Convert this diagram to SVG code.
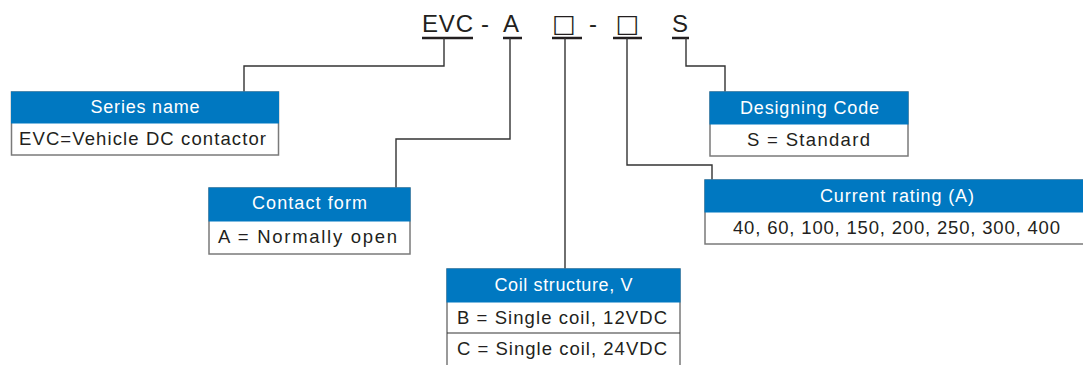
<svg xmlns="http://www.w3.org/2000/svg" width="1083" height="365" viewBox="0 0 1083 365">
<style>
.code{font-family:"Liberation Sans",Arial,sans-serif;font-size:24px;fill:#231f20}
.sq{font-family:"DejaVu Sans",sans-serif;font-size:25px;fill:#231f20}
.ul{stroke:#231f20;stroke-width:2.5;fill:none}
.hd{fill:#0078c1;stroke:#0078c1;stroke-width:1}
.bd{fill:#fff;stroke:#7a7a7a;stroke-width:1.5}
.ht{font-family:"Liberation Sans",Arial,sans-serif;font-size:18px;fill:#fff}
.bt{font-family:"Liberation Sans",Arial,sans-serif;font-size:18.5px;fill:#231f20}
.cn{stroke:#333;stroke-width:1.4;fill:none}
.dv{stroke:#333;stroke-width:1.2}
</style>
<rect width="1083" height="365" fill="#fff"/>
<g id="code">
<text class="code" x="422" y="32" textLength="51">EVC</text>
<text class="code" x="481" y="32">-</text>
<text class="code" x="503" y="32">A</text>
<text class="sq" x="564" y="32" text-anchor="middle">□</text>
<text class="code" x="589" y="32">-</text>
<text class="sq" x="627.5" y="32" text-anchor="middle">□</text>
<text class="code" x="672" y="32">S</text>
<path class="ul" d="M422 38H473M503 38H522M552 38H582M613 38H642M672 38H689"/>
</g>
<g id="connectors">
<path class="cn" d="M444 38V66H244V92"/>
<path class="cn" d="M510 38V139H396V188"/>
<path class="cn" d="M565 38V269"/>
<path class="cn" d="M627 38V165H712V180"/>
<path class="cn" d="M686 38V66H725V92"/>
</g>
<g id="series-name">
<rect class="bd" x="11.5" y="92" width="267" height="63"/>
<rect class="hd" x="11.5" y="92" width="267" height="31"/>
<text class="ht" x="145" y="113" text-anchor="middle" textLength="109">Series name</text>
<text class="bt" x="19" y="145" textLength="247">EVC=Vehicle DC contactor</text>
</g>
<g id="contact-form">
<rect class="bd" x="209" y="188" width="201" height="66"/>
<rect class="hd" x="209" y="188" width="201" height="33"/>
<text class="ht" x="309.5" y="209" text-anchor="middle" textLength="115">Contact form</text>
<text class="bt" x="218" y="243" textLength="179">A = Normally open</text>
</g>
<g id="coil-structure">
<rect class="bd" x="447" y="269" width="233" height="100"/>
<rect class="hd" x="447" y="269" width="233" height="33"/>
<line class="dv" x1="447" y1="333" x2="680" y2="333"/>
<text class="ht" x="563.5" y="291" text-anchor="middle" textLength="138">Coil structure, V</text>
<text class="bt" x="457" y="324" textLength="210">B = Single coil, 12VDC</text>
<text class="bt" x="457" y="355" textLength="210">C = Single coil, 24VDC</text>
</g>
<g id="designing-code">
<rect class="bd" x="710" y="92" width="198" height="64"/>
<rect class="hd" x="710" y="92" width="198" height="32"/>
<text class="ht" x="809.5" y="114" text-anchor="middle" textLength="139">Designing Code</text>
<text class="bt" x="808.5" y="146" text-anchor="middle" textLength="123">S = Standard</text>
</g>
<g id="current-rating">
<rect class="bd" x="705" y="180" width="390" height="64"/>
<rect class="hd" x="705" y="180" width="390" height="32"/>
<text class="ht" x="897" y="202" text-anchor="middle" textLength="154">Current rating (A)</text>
<text class="bt" x="896.5" y="234" text-anchor="middle" textLength="327">40, 60, 100, 150, 200, 250, 300, 400</text>
</g>
</svg>
